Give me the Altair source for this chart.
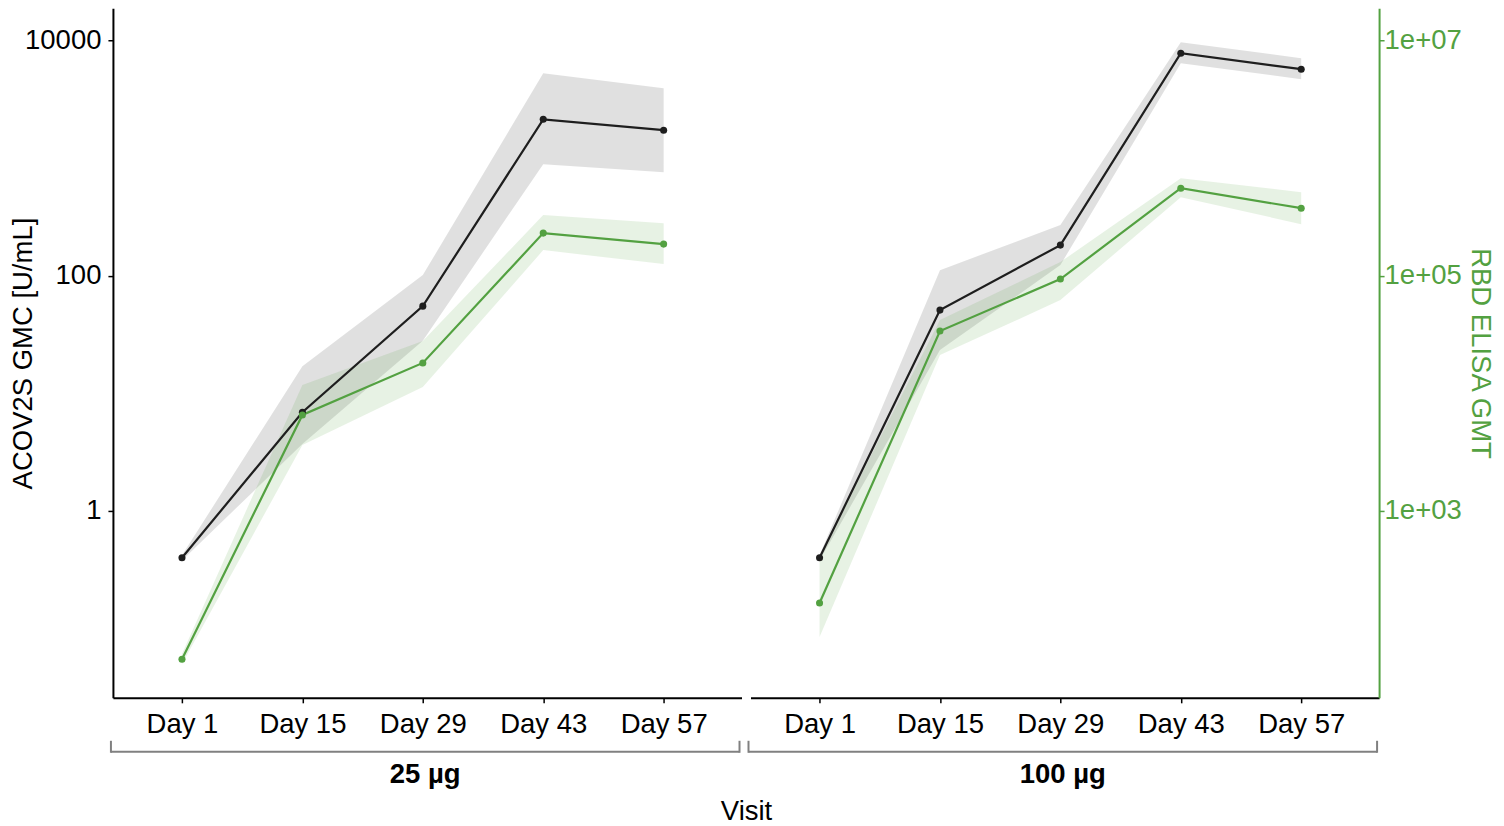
import altair as alt
import pandas as pd

# ---------------- data ----------------
visits = ["Day 1", "Day 15", "Day 29", "Day 43", "Day 57"]

acov_25_gmc = [0.40, 6.9, 55.0, 2130.0, 1720.0]
acov_25_lower = [0.38, 3.7, 28.0, 885.0, 757.0]
acov_25_upper = [0.42, 17.0, 101.0, 5250.0, 3910.0]

elisa_25_gmt = [55.0, 6540.0, 18100.0, 229600.0, 185200.0]
elisa_25_lower = [50.0, 3630.0, 11300.0, 164700.0, 125200.0]
elisa_25_upper = [61.0, 11750.0, 27800.0, 326600.0, 279000.0]

acov_100_gmc = [0.40, 50.9, 181.6, 7760.0, 5675.0]
acov_100_lower = [0.38, 23.3, 122.8, 6380.0, 4670.0]
acov_100_upper = [0.42, 111.3, 268.5, 9620.0, 7030.0]

elisa_100_gmt = [165.0, 33800.0, 93400.0, 553000.0, 374000.0]
elisa_100_lower = [85.0, 21100.0, 61900.0, 464000.0, 273600.0]
elisa_100_upper = [407.0, 41900.0, 130300.0, 673000.0, 512000.0]

dose_labels = ["25 µg", "100 µg"]
left_ticks = [1, 100, 10000]
right_ticks = [1e3, 1e5, 1e7]

# ---------------- styling ----------------
W, H = 629, 690
BLACK = "#1e1e1e"
GREEN = "#53a141"
GRAY = "#808080"
FONT = "Liberation Sans"
FS = 27.5
LEFT_DOMAIN = [0.02582, 18696]
RIGHT_DOMAIN = [25.82, 18696000]


def frame(vals, lo, hi):
    return pd.DataFrame({"visit": visits, "value": vals, "lower": lo, "upper": hi})


def x_enc():
    return alt.X(
        "visit:N",
        sort=visits,
        scale=alt.Scale(type="point", padding=0.61, align=0.47),
        axis=alt.Axis(title=None, labelAngle=0, labelPadding=8),
    )


def panel(df_a, df_e, label, side, visit_title=False):
    ls = alt.Scale(type="log", domain=LEFT_DOMAIN)
    rs = alt.Scale(type="log", domain=RIGHT_DOMAIN)
    if side == "left":
        axis_a = alt.Axis(
            orient="left", values=left_ticks, format="d",
            title="ACOV2S GMC [U/mL]", titleX=-81, titleY=H / 2,
            titleAngle=-90, titleBaseline="alphabetic", titleAlign="center",
            labelPadding=7,
        )
        axis_e = None
    else:
        axis_a = None
        axis_e = alt.Axis(
            orient="right", values=right_ticks,
            labelExpr="'1e+0' + round(log(datum.value) / LN10)",
            title="RBD ELISA GMT", titleX=92, titleY=H / 2,
            titleAngle=90, titleBaseline="alphabetic", titleAlign="center",
            titleColor=GREEN, labelColor=GREEN, domainColor=GREEN,
            tickColor=GREEN, labelPadding=0,
        )

    area_a = alt.Chart(df_a).mark_area(color="black", opacity=0.12).encode(
        x=x_enc(),
        y=alt.Y("lower:Q", scale=ls, axis=axis_a),
        y2="upper:Q",
    )
    area_e = alt.Chart(df_e).mark_area(color=GREEN, opacity=0.14).encode(
        x=x_enc(),
        y=alt.Y("lower:Q", scale=rs, axis=axis_e),
        y2="upper:Q",
    )
    line_a = alt.Chart(df_a).mark_line(color=BLACK, strokeWidth=2.2).encode(
        x=x_enc(), y=alt.Y("value:Q", scale=ls, axis=None)
    )
    line_e = alt.Chart(df_e).mark_line(color=GREEN, strokeWidth=2.2).encode(
        x=x_enc(), y=alt.Y("value:Q", scale=rs, axis=None)
    )
    pt_a = alt.Chart(df_a).mark_circle(color=BLACK, size=50, opacity=1).encode(
        x=x_enc(), y=alt.Y("value:Q", scale=ls, axis=None)
    )
    pt_e = alt.Chart(df_e).mark_circle(color=GREEN, size=50, opacity=1).encode(
        x=x_enc(), y=alt.Y("value:Q", scale=rs, axis=None)
    )

    deco = pd.DataFrame({"dose": [label]})
    bracket_h = alt.Chart(deco).mark_rule(color=GRAY, strokeWidth=2).encode(
        x=alt.value(-2), x2=alt.value(627), y=alt.value(744)
    )
    bracket_l = alt.Chart(deco).mark_rule(color=GRAY, strokeWidth=2).encode(
        x=alt.value(-2), y=alt.value(733), y2=alt.value(745)
    )
    bracket_r = alt.Chart(deco).mark_rule(color=GRAY, strokeWidth=2).encode(
        x=alt.value(627), y=alt.value(733), y2=alt.value(745)
    )
    dose_txt = alt.Chart(deco).mark_text(
        font=FONT, fontSize=FS, fontWeight="bold", color="black",
        align="center", baseline="alphabetic",
    ).encode(x=alt.value(312.5), y=alt.value(775), text="dose:N")

    layers = [area_a, area_e, line_a, line_e, pt_a, pt_e,
              bracket_h, bracket_l, bracket_r, dose_txt]
    if visit_title:
        vdf = pd.DataFrame({"t": ["Visit"]})
        layers.append(
            alt.Chart(vdf).mark_text(
                font=FONT, fontSize=FS, color="black",
                align="center", baseline="alphabetic",
            ).encode(x=alt.value(634), y=alt.value(812), text="t:N")
        )
    return alt.layer(*layers).resolve_scale(y="independent").properties(
        width=W, height=H
    )


p1 = panel(
    frame(acov_25_gmc, acov_25_lower, acov_25_upper),
    frame(elisa_25_gmt, elisa_25_lower, elisa_25_upper),
    dose_labels[0], "left", visit_title=True,
)
p2 = panel(
    frame(acov_100_gmc, acov_100_lower, acov_100_upper),
    frame(elisa_100_gmt, elisa_100_lower, elisa_100_upper),
    dose_labels[1], "right",
)

chart = (
    alt.hconcat(p1, p2, spacing=9, bounds="flush")
    .properties(padding={"left": 2, "top": 0, "right": 3, "bottom": 0},
                background="white")
    .configure_view(stroke=None)
    .configure_axis(
        labelFont=FONT, labelFontSize=FS, labelColor="black",
        titleFont=FONT, titleFontSize=FS, titleFontWeight="normal",
        titleColor="black",
        domainColor="black", domainWidth=2,
        tickColor="black", tickSize=5, tickWidth=1.5,
        grid=False,
    )
)

chart.save("out.html", embed_options={"renderer": "svg", "actions": False})
